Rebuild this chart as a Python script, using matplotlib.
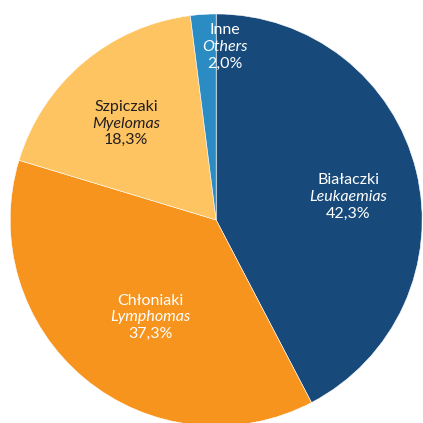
import matplotlib
matplotlib.use("Agg")
import matplotlib.pyplot as plt
import numpy as np

labels_pl = ["Białaczki", "Chłoniaki", "Szpiczaki", "Inne"]
labels_en = ["Leukaemias", "Lymphomas", "Myelomas", "Others"]
values = [42.3, 37.3, 18.3, 2.0]
colors = ["#174a7a", "#f7941d", "#fdc461", "#2b8cc4"]
text_colors = ["white", "white", "#231f20", "white"]

# label placement (angle in degrees, radius fraction)
label_pos = [(10, 0.65), (-124, 0.57), (133, 0.64), (87, 0.84)]

fig = plt.figure(figsize=(4.23, 4.23), dpi=100)
ax = fig.add_axes([0.024, -0.007, 0.974, 0.974])
ax.pie(values, colors=colors, startangle=90, counterclock=False,
       wedgeprops=dict(linewidth=0.4, edgecolor="white"))
ax.set_xlim(-1, 1)
ax.set_ylim(-1, 1)
ax.set_aspect("equal")
ax.axis("off")

fam = ["Lato", "DejaVu Sans"]
fs = 11.5
for pl, en, v, tc, (ang, r) in zip(labels_pl, labels_en, values, text_colors, label_pos):
    x = r * np.cos(np.radians(ang))
    y = r * np.sin(np.radians(ang))
    pct = f"{v:.1f}%".replace(".", ",")
    dy = 0.081
    ax.text(x, y + dy, pl, ha="center", va="center", color=tc, fontsize=fs, family=fam)
    ax.text(x, y, en, ha="center", va="center", color=tc, fontsize=fs, family=fam, style="italic")
    ax.text(x, y - dy, pct, ha="center", va="center", color=tc, fontsize=fs, family=fam)

fig.savefig("out.png", dpi=100)
